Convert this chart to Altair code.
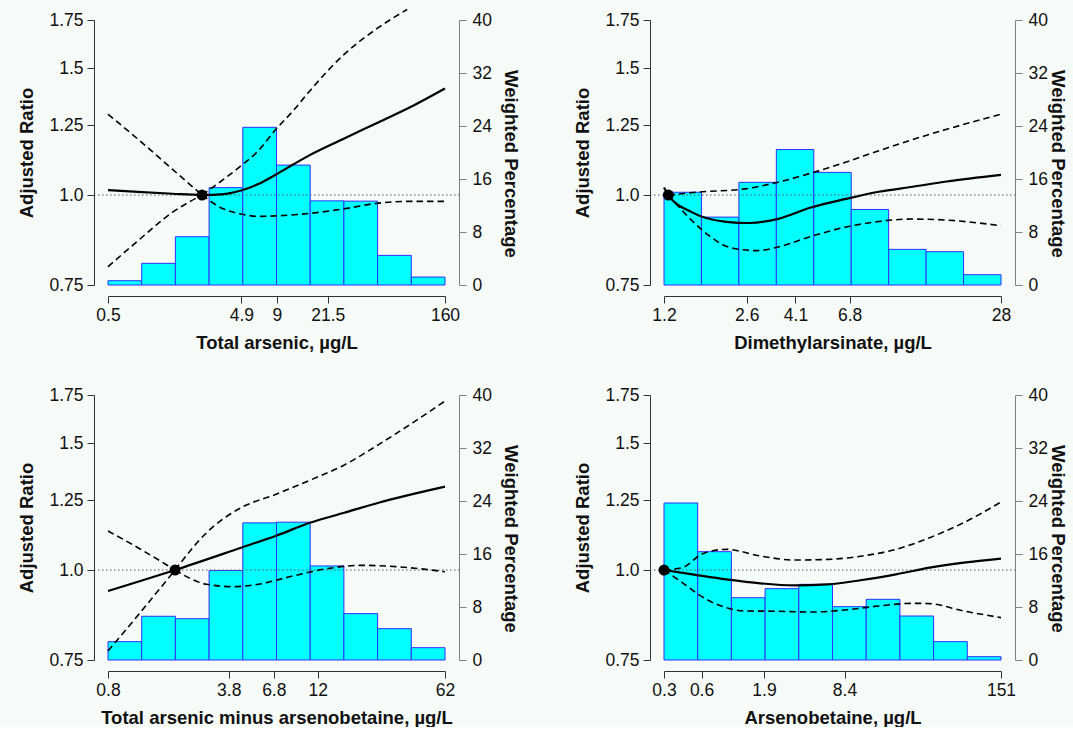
import altair as alt
import numpy as np
import pandas as pd

FONT = "Liberation Sans"
W, H = 337, 265

# ---------------- data ----------------
# Panel 1: Total arsenic
p1_title = "Total arsenic, µg/L"
p1_range = [0.5, 160]
p1_ticks = [0.5, 4.9, 9, 21.5, 160]
p1_pct = [0.65, 3.27, 7.29, 14.7, 23.8, 18.1, 12.7, 12.66, 4.47, 1.2]
p1_ref = 2.5
p1_est_x = [0.5, 0.835, 1.503, 2.5, 3.63, 4.88, 6.55, 8.79, 11.8, 15.8, 28.5, 51.4, 92.6, 160]
p1_est_y = [1.016, 1.010, 1.004, 1.0, 1.003, 1.0145, 1.0355, 1.0667, 1.1015, 1.136, 1.198, 1.2623, 1.3305, 1.406]
p1_hiL_x = [0.5, 0.835, 1.503, 2.5]
p1_hiL_y = [1.295, 1.1955, 1.0863, 1.0]
p1_hiR_x = [2.5, 3.63, 4.88, 6.55, 8.79, 11.8, 15.8, 28.5, 51.4, 83.7]
p1_hiR_y = [1.0, 1.052, 1.098, 1.152, 1.232, 1.307, 1.395, 1.568, 1.709, 1.81]
p1_loL_x = [0.5, 0.835, 1.503, 2.5]
p1_loL_y = [0.795, 0.864, 0.946, 1.0]
p1_loR_x = [2.5, 3.63, 4.88, 6.55, 8.79, 15.8, 28.5, 51.4, 92.6, 160]
p1_loR_y = [1.0, 0.956, 0.941, 0.934, 0.9355, 0.943, 0.957, 0.9745, 0.98, 0.98]

# Panel 2: Dimethylarsinate
p2_title = "Dimethylarsinate, µg/L"
p2_range = [1.2, 28]
p2_ticks = [1.2, 2.6, 4.1, 6.8, 28]
p2_pct = [14.0, 10.25, 15.5, 20.45, 17.0, 11.4, 5.38, 5.03, 1.56]
p2_ref = 1.25
p2_est_x = [1.2, 1.25, 1.561, 2.145, 2.678, 3.451, 4.739, 6.51, 8.94, 12.27, 16.85, 28]
p2_est_y = [1.0245, 1.0, 0.946, 0.918, 0.9145, 0.926, 0.961, 0.987, 1.0105, 1.0267, 1.0443, 1.0667]
p2_hiL_x = []
p2_hiL_y = []
p2_hiR_x = [1.25, 1.717, 2.513, 3.451, 4.739, 6.51, 8.94, 12.27, 16.85, 28]
p2_hiR_y = [1.0, 1.0105, 1.019, 1.041, 1.0725, 1.11, 1.152, 1.194, 1.234, 1.295]
p2_loL_x = []
p2_loL_y = []
p2_loR_x = [1.25, 1.561, 1.83, 2.214, 2.853, 3.451, 4.739, 6.51, 8.94, 12.27, 16.85, 28]
p2_loR_y = [1.0, 0.921, 0.878, 0.846, 0.837, 0.846, 0.876, 0.902, 0.919, 0.926, 0.923, 0.9065]

# Panel 3: Total arsenic minus arsenobetaine
p3_title = "Total arsenic minus arsenobetaine, µg/L"
p3_range = [0.8, 62]
p3_ticks = [0.8, 3.8, 6.8, 12, 62]
p3_pct = [2.77, 6.6, 6.24, 13.5, 20.7, 20.8, 14.2, 7.0, 4.73, 1.86]
p3_ref = 1.9
p3_est_x = [0.8, 1.9, 4.46, 6.95, 10.84, 16.9, 26.3, 62]
p3_est_y = [0.935, 1.0, 1.074, 1.115, 1.163, 1.201, 1.240, 1.3055]
p3_hiL_x = [0.8, 1.177, 1.9]
p3_hiL_y = [1.133, 1.074, 1.0]
p3_hiR_x = [1.9, 2.86, 4.46, 6.95, 10.84, 16.9, 26.3, 41.0, 62]
p3_hiR_y = [1.0, 1.127, 1.2207, 1.273, 1.3325, 1.3994, 1.4935, 1.602, 1.7166]
p3_loL_x = [0.8, 1.177, 1.9]
p3_loL_y = [0.772, 0.865, 1.0]
p3_loR_x = [1.9, 2.86, 4.08, 5.56, 8.68, 13.53, 21.1, 32.8, 62]
p3_loR_y = [1.0, 0.9553, 0.9482, 0.9553, 0.981, 1.0043, 1.0151, 1.011, 0.9947]

# Panel 4: Arsenobetaine
p4_title = "Arsenobetaine, µg/L"
p4_range = [0.3, 151]
p4_ticks = [0.3, 0.6, 1.9, 8.4, 151]
p4_pct = [23.7, 16.35, 9.4, 10.77, 11.42, 8.05, 9.16, 6.64, 2.77, 0.5]
p4_ref = 0.3
p4_est_x = [0.3, 0.508, 0.949, 1.778, 3.32, 6.2, 11.6, 21.7, 40.5, 75.8, 151]
p4_est_y = [1.0, 0.9863, 0.9706, 0.9583, 0.9522, 0.9553, 0.9686, 0.9863, 1.0076, 1.0238, 1.037]
p4_hiL_x = []
p4_hiL_y = []
p4_hiR_x = [0.3, 0.421, 0.612, 0.949, 1.778, 3.32, 6.2, 11.6, 21.7, 40.5, 75.8, 151]
p4_hiR_y = [1.0, 1.0076, 1.0537, 1.0683, 1.0458, 1.0325, 1.0345, 1.0458, 1.0683, 1.109, 1.1634, 1.243]
p4_loL_x = []
p4_loL_y = []
p4_loR_x = [0.3, 0.421, 0.612, 0.949, 1.297, 2.425, 4.54, 8.48, 15.8, 29.6, 40.5, 75.8, 151]
p4_loR_y = [1.0, 0.9604, 0.917, 0.8864, 0.8773, 0.8765, 0.8744, 0.88, 0.8914, 0.899, 0.898, 0.8773, 0.8588]

ratio_ticks = [0.75, 1.0, 1.25, 1.5, 1.75]
pct_ticks = [0, 8, 16, 24, 32, 40]

# ---------------- styling ----------------
BG = "#f7fbf8"
BAR_FILL = "#00ffff"
BAR_STROKE = "#2f2fff"


def make_panel(title, xr, ticks, pct, ref, est_x, est_y, segs, right_pad):
    edges = np.geomspace(xr[0], xr[1], len(pct) + 1)
    bars = pd.DataFrame({"x0": edges[:-1], "x1": edges[1:], "pct": pct})
    est = pd.DataFrame({"x": est_x, "r": est_y})
    rows = []
    for name, (sx, sy) in segs.items():
        for a, b in zip(sx, sy):
            rows.append({"x": a, "r": b, "seg": name})
    ci = pd.DataFrame(rows)
    refdf = pd.DataFrame({"x": [ref], "r": [1.0]})

    xscale = alt.Scale(type="log", domain=xr, nice=False)
    xaxis = alt.Axis(values=ticks, format="~g", title=title, offset=11,
                     tickSize=7, labelPadding=3, titlePadding=10,
                     domainColor="#333333", tickColor="#333333",
                     labelFlush=False)
    yscale = alt.Scale(type="log", domain=[0.75, 1.75], nice=False)
    yaxis = alt.Axis(values=ratio_ticks, orient="left", title="Adjusted Ratio",
                     labelExpr="datum.value == 1 ? '1.0' : format(datum.value, '~g')",
                     offset=14, tickSize=7, labelPadding=4, titlePadding=12,
                     domainColor="#333333", tickColor="#333333")
    paxis = alt.Axis(values=pct_ticks, orient="right", title="Weighted Percentage",
                     offset=14, tickSize=7, labelPadding=6, titlePadding=right_pad,
                     domainColor="#808080", tickColor="#808080",
                     titleY=H / 2 + 11)

    bar_layer = alt.Chart(bars).mark_bar(
        fill=BAR_FILL, stroke=BAR_STROKE, strokeWidth=1, opacity=1
    ).encode(
        x=alt.X("x0:Q", scale=xscale, axis=xaxis),
        x2="x1:Q",
        y=alt.Y("pct:Q", scale=alt.Scale(domain=[0, 40], nice=False), axis=paxis),
        y2=alt.datum(0),
    )

    rule = alt.Chart(refdf).mark_rule(
        color="#555555", strokeDash=[1.5, 2.5], strokeWidth=1
    ).encode(
        y=alt.Y(datum=1.0, scale=yscale, axis=yaxis),
        x=alt.value(-14), x2=alt.value(W + 14),
    )
    ci_layer = alt.Chart(ci).mark_line(
        color="black", strokeDash=[6.5, 4], strokeWidth=1.6,
        interpolate="monotone", clip=False
    ).encode(
        x=alt.X("x:Q", scale=xscale, axis=xaxis),
        y=alt.Y("r:Q", scale=yscale, axis=yaxis),
        detail="seg:N",
    )
    est_layer = alt.Chart(est).mark_line(
        color="black", strokeWidth=2.2, interpolate="monotone", clip=False
    ).encode(
        x=alt.X("x:Q", scale=xscale, axis=xaxis),
        y=alt.Y("r:Q", scale=yscale, axis=yaxis),
    )
    dot = alt.Chart(refdf).mark_circle(
        color="black", size=120, opacity=1
    ).encode(
        x=alt.X("x:Q", scale=xscale, axis=xaxis),
        y=alt.Y("r:Q", scale=yscale, axis=yaxis),
    )
    ratio = alt.layer(rule, ci_layer, est_layer, dot)
    return alt.layer(bar_layer, ratio).resolve_scale(y="independent").properties(
        width=W, height=H
    )


p1 = make_panel(p1_title, p1_range, p1_ticks, p1_pct, p1_ref, p1_est_x, p1_est_y,
                {"hiL": (p1_hiL_x, p1_hiL_y), "hiR": (p1_hiR_x, p1_hiR_y),
                 "loL": (p1_loL_x, p1_loL_y), "loR": (p1_loR_x, p1_loR_y)}, 9)
p2 = make_panel(p2_title, p2_range, p2_ticks, p2_pct, p2_ref, p2_est_x, p2_est_y,
                {"hiL": (p2_hiL_x, p2_hiL_y), "hiR": (p2_hiR_x, p2_hiR_y),
                 "loL": (p2_loL_x, p2_loL_y), "loR": (p2_loR_x, p2_loR_y)}, 0)
p3 = make_panel(p3_title, p3_range, p3_ticks, p3_pct, p3_ref, p3_est_x, p3_est_y,
                {"hiL": (p3_hiL_x, p3_hiL_y), "hiR": (p3_hiR_x, p3_hiR_y),
                 "loL": (p3_loL_x, p3_loL_y), "loR": (p3_loR_x, p3_loR_y)}, 9)
p4 = make_panel(p4_title, p4_range, p4_ticks, p4_pct, p4_ref, p4_est_x, p4_est_y,
                {"hiL": (p4_hiL_x, p4_hiL_y), "hiR": (p4_hiR_x, p4_hiR_y),
                 "loL": (p4_loL_x, p4_loL_y), "loR": (p4_loR_x, p4_loR_y)}, 0)

chart = alt.vconcat(
    alt.hconcat(p1, p2, spacing=53),
    alt.hconcat(p3, p4, spacing=53),
    spacing=34,
).properties(
    background=BG,
    padding={"left": 17, "top": 6, "right": 6, "bottom": 0},
).configure_view(
    stroke=None
).configure_axis(
    grid=False,
    labelFont=FONT, titleFont=FONT,
    labelFontSize=17.5, titleFontSize=18.5,
    titleFontWeight="bold",
    labelColor="#111111", titleColor="#111111",
    domainWidth=1, tickWidth=1,
)

chart.save("out.html", embed_options={"renderer": "svg", "actions": False})
